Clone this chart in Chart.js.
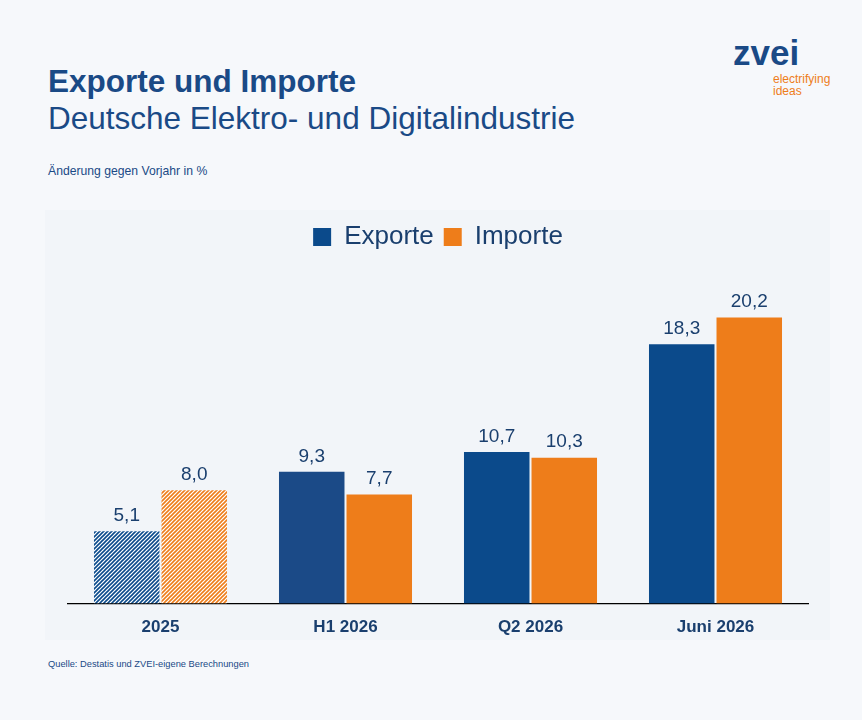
<!DOCTYPE html>
<html><head><meta charset="utf-8">
<script src="https://cdn.jsdelivr.net/npm/chart.js"></script>
<style>
body{margin:0;width:862px;height:720px;background:#f6f8fb;font-family:Arial,"Liberation Sans",sans-serif;position:relative;overflow:hidden}
#t1{position:absolute;left:48px;top:63px;font-size:31.5px;font-weight:bold;color:#1a4a86}
#t2{position:absolute;left:48px;top:100px;font-size:31.5px;color:#1a4a86}
#sub{position:absolute;left:48px;top:164px;font-size:12.2px;color:#1a4a86}
#src{position:absolute;left:48px;top:659px;font-size:9.3px;color:#1a4a86}
#logo{position:absolute;left:733px;top:33px;color:#1a4a86;font-size:35px;font-weight:bold}
#tag{position:absolute;left:773px;top:73px;color:#ee7d1a;font-size:12px;line-height:12px}
#panel{position:absolute;left:45px;top:210px;width:785px;height:430px;background:#f2f5f9}
#c{position:absolute;left:0;top:0}
</style></head><body>
<div id="t1">Exporte und Importe</div>
<div id="t2">Deutsche Elektro- und Digitalindustrie</div>
<div id="sub">Änderung gegen Vorjahr in %</div>
<div id="logo">zvei</div>
<div id="tag">electrifying<br>ideas</div>
<div id="panel"><canvas id="c" width="785" height="442"></canvas></div>
<div id="src">Quelle: Destatis und ZVEI-eigene Berechnungen</div>
<script>
const categories=["2025","H1 2026","Q2 2026","Juni 2026"];
const exporte=[5.1,9.3,10.7,18.3];
const importe=[8.0,7.7,10.3,20.2];
const blue="#0b4a8b", orange="#ee7d1a";
function hatch(col){const p=document.createElement('canvas');p.width=4;p.height=4;const g=p.getContext('2d');
g.fillStyle="#ffffff";g.fillRect(0,0,4,4);g.strokeStyle=col;g.lineWidth=1.6;
g.beginPath();g.moveTo(0,4);g.lineTo(4,0);g.moveTo(-1,1);g.lineTo(1,-1);g.moveTo(3,5);g.lineTo(5,3);g.stroke();
return g.createPattern(p,'repeat');}
const ctx=document.getElementById('c').getContext('2d');
const labelsPlugin={id:'vl',afterDatasetsDraw(ch){const c=ch.ctx;c.save();c.font='19px Arial';c.fillStyle='#1a3f6e';c.textAlign='center';c.textBaseline='bottom';
ch.data.datasets.forEach((d,i)=>{ch.getDatasetMeta(i).data.forEach((b,j)=>{c.fillText(d.data[j].toFixed(1).replace('.',','),b.x,b.y-6);});});c.restore();}};
new Chart(ctx,{type:'bar',
data:{labels:categories,datasets:[
{label:'Exporte',data:exporte,backgroundColor:[hatch(blue),"#1b4a87",blue,blue]},
{label:'Importe',data:importe,backgroundColor:[hatch(orange),orange,orange,orange]}]},
options:{responsive:false,animation:false,
layout:{padding:{left:23,right:22,top:4,bottom:0}},
datasets:{bar:{categoryPercentage:0.73,barPercentage:0.97}},
plugins:{legend:{labels:{font:{size:26,family:'Arial'},color:'#1a3f6e',boxWidth:18,boxHeight:18,padding:10,
generateLabels:()=>[{text:'Exporte',fillStyle:blue,strokeStyle:blue,lineWidth:0,fontColor:'#1a3f6e'},{text:'Importe',fillStyle:orange,strokeStyle:orange,lineWidth:0,fontColor:'#1a3f6e'}]}},tooltip:{enabled:false}},
scales:{x:{grid:{display:false,drawTicks:false},border:{color:'#000',width:1.2},ticks:{padding:14,color:'#1a3f6e',font:{size:17,weight:'bold',family:'Arial'}}},
y:{display:false,min:0,max:24.25}}},
plugins:[labelsPlugin]});
</script></body></html>
